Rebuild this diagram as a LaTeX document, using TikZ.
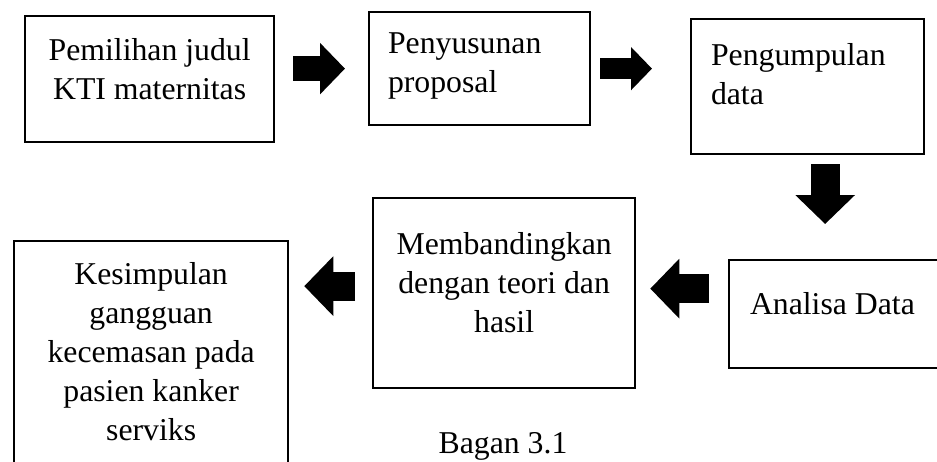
\documentclass[tikz,border=0pt]{standalone}
\usepackage{fontspec}
\setmainfont{Liberation Serif}
\usepackage{tikz}
\usetikzlibrary{arrows.meta}
\usetikzlibrary{positioning}

\begin{document}
\begin{tikzpicture}[x = 0.4pt, y = -0.4pt, kotak/.style = {rectangle, draw, line width = 0.9pt, anchor = north west, inner sep = 0pt}, teks/.style = {inner sep = 0pt, font = \fontsize{12.7pt}{15.6pt}\selectfont}, panah/.style = {line width = #1, -{Triangle[length = 0pt 1, width = 0pt 2]}}]
	\useasboundingbox (0,0) rectangle (937,461);
	\clip (0,0) rectangle (937,461);
	\node[kotak, minimum width = 99.6pt, minimum height = 50.4pt] (judul) at (24,15) {};
	\node[kotak, minimum width = 88.4pt, minimum height = 45.2pt] (proposal) at (368,11) {};
	\node[kotak, minimum width = 93.2pt, minimum height = 54pt] (kumpul) at (690,18) {};
	\node[kotak, minimum width = 96pt, minimum height = 43.2pt] (analisa) at (728,259) {};
	\node[kotak, minimum width = 104.8pt, minimum height = 76pt] (banding) at (372,197) {};
	\node[kotak, minimum width = 109.6pt, minimum height = 96pt] (simpul) at (13,240) {};
	\node[teks, align = center, below = 9.2pt of judul.north] (tjudul) {Pemilihan judul\\KTI maternitas};
	\node[teks, align = left, below right = 8.6pt and 7.8pt of proposal.north west] (tproposal) {Penyusunan\\proposal};
	\node[teks, align = left, below right = 9.8pt and 8.2pt of kumpul.north west] (tkumpul) {Pengumpulan\\data};
	\node[teks, below right = 13pt and 8.6pt of analisa.north west] (tanalisa) {Analisa Data};
	\node[teks, align = center, below = 13.8pt of banding.north] (tbanding) {Membandingkan\\dengan teori dan\\hasil};
	\node[teks, align = center, below = 8.6pt of simpul.north] (tsimpul) {Kesimpulan\\gangguan\\kecemasan pada\\pasien kanker\\serviks};
	\node[teks, anchor = base] (bagan) at (503,453) {Bagan 3.1};
	\draw[panah = 10pt, shorten <= 7.2pt, shorten >= 9.2pt] (judul.east |- proposal.west) -- (proposal.west);
	\draw[panah = 8.4pt, shorten <= 3.6pt, shorten >= 15.2pt] (proposal.east) -- (proposal.east -| kumpul.west);
	\draw[panah = 11.6pt, shorten <= 3.6pt, shorten >= 14pt] ([xshift = 7pt]kumpul.south) -- ([xshift = 7pt]kumpul.south |- analisa.north);
	\draw[panah = 11.6pt, shorten <= 7.6pt, shorten >= 5.6pt] ([yshift = 1.8pt]analisa.west |- banding.east) -- ([yshift = 1.8pt]banding.east);
	\draw[panah = 11.6pt, shorten <= 6.8pt, shorten >= 6pt] ([yshift = 2.8pt]banding.west) -- ([yshift = 2.8pt]banding.west -| simpul.east);
\end{tikzpicture}
\end{document}
